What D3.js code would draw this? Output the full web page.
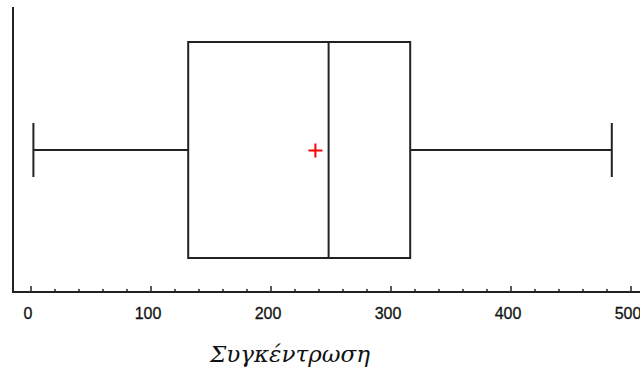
<!DOCTYPE html>
<html>
<head>
<meta charset="utf-8">
<script src="https://cdn.jsdelivr.net/npm/d3@7"></script>
<style>
  body { margin: 0; background: #fff; }
  .axis text { font-family: "Liberation Sans", Arial, sans-serif; font-size: 16px; fill: #111; stroke: #111; stroke-width: 0.3px; }
</style>
</head>
<body>
<div id="chart"></div>
<script>
// five number summary + mean
const stats = { min: 2, q1: 131, median: 248, q3: 316, max: 484 };
const meanValue = [237];
const tickValues = [0, 100, 200, 300, 400, 500];
const axisTitle = 'Συγκέντρωση';

const width = 640, height = 372;
const svg = d3.select('#chart').append('svg')
  .attr('width', width)
  .attr('height', height);

// x scale: 0 -> 31px, 500 -> 631px
const x = d3.scaleLinear().domain([0, 500]).range([31, 631]);
const y = d3.scaleLinear().domain([0, 1]).range([258, 42]); // box band
const midY = 150;
const stroke = '#222';

// axes frame
svg.append('line').attr('x1', 13).attr('x2', 13).attr('y1', 7).attr('y2', 293)
  .attr('stroke', stroke).attr('stroke-width', 2);

const xAxis = svg.append('g')
  .attr('class', 'axis')
  .attr('transform', 'translate(0,292)');
xAxis.append('line').attr('x1', 13).attr('x2', width).attr('y1', 0).attr('y2', 0)
  .attr('stroke', stroke).attr('stroke-width', 2);

// minor ticks every 20
xAxis.selectAll('.minor')
  .data(d3.range(0, 501, 20).filter(v => v % 100 !== 0))
  .join('line')
  .attr('class', 'minor')
  .attr('x1', d => x(d)).attr('x2', d => x(d))
  .attr('y1', 0).attr('y2', -3)
  .attr('stroke', stroke).attr('stroke-width', 1.5);

// major ticks + labels
xAxis.selectAll('.major')
  .data(tickValues)
  .join('line')
  .attr('class', 'major')
  .attr('x1', d => x(d)).attr('x2', d => x(d))
  .attr('y1', 0).attr('y2', -6)
  .attr('stroke', stroke).attr('stroke-width', 1.5);

xAxis.selectAll('.lbl')
  .data(tickValues)
  .join('text')
  .attr('class', 'lbl')
  .attr('x', d => x(d) - 3)
  .attr('y', 27)
  .attr('text-anchor', 'middle')
  .text(d => d);

// axis title
svg.append('text')
  .attr('x', 290)
  .attr('y', 362)
  .attr('text-anchor', 'middle')
  .attr('font-family', '"DejaVu Serif", "Liberation Serif", serif')
  .attr('font-style', 'italic')
  .attr('font-size', 22)
  .attr('textLength', 160)
  .attr('lengthAdjust', 'spacingAndGlyphs')
  .attr('fill', '#111')
  .text(axisTitle);

// box plot
const g = svg.append('g').attr('fill', 'none').attr('stroke', stroke).attr('stroke-width', 2);

// whiskers
g.append('line').attr('x1', x(stats.min)).attr('x2', x(stats.q1)).attr('y1', midY).attr('y2', midY);
g.append('line').attr('x1', x(stats.q3)).attr('x2', x(stats.max)).attr('y1', midY).attr('y2', midY);
// caps
[stats.min, stats.max].forEach(v => {
  g.append('line').attr('x1', x(v)).attr('x2', x(v)).attr('y1', midY - 27).attr('y2', midY + 27);
});
// box
g.append('rect')
  .attr('x', x(stats.q1)).attr('y', y(1))
  .attr('width', x(stats.q3) - x(stats.q1))
  .attr('height', y(0) - y(1));
// median
g.append('line').attr('x1', x(stats.median)).attr('x2', x(stats.median))
  .attr('y1', y(1)).attr('y2', y(0));

// mean marker
svg.selectAll('.mean')
  .data(meanValue)
  .join('path')
  .attr('class', 'mean')
  .attr('d', d => `M${x(d) - 7},${midY + 0.5}H${x(d) + 7}M${x(d)},${midY - 6.5}V${midY + 7.5}`)
  .attr('stroke', '#f00')
  .attr('stroke-width', 2)
  .attr('fill', 'none');
</script>
</body>
</html>
